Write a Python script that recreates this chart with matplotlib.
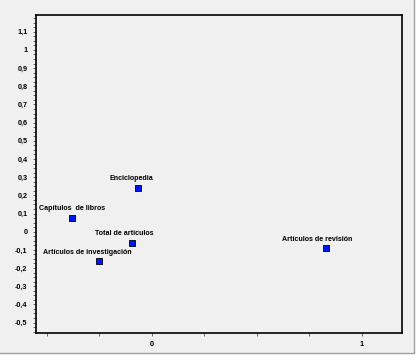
import matplotlib
matplotlib.use("Agg")
import matplotlib.pyplot as plt
from matplotlib.patches import Rectangle
from matplotlib.ticker import MultipleLocator, FuncFormatter

# data
names = ["Enciclopedia", "Capítulos  de libros", "Total de artículos",
         "Artículos de investigación", "Artículos de revisión"]
dim1 = [-0.067, -0.380, -0.094, -0.251, 0.830]
dim2 = [0.242, 0.077, -0.060, -0.160, -0.090]

# label offsets (points) relative to each marker
label_dx = [-4.3, 0.0, -5.8, -8.6, -6.5]
label_dy = 6.3

W, H = 416, 363
fig = plt.figure(figsize=(W / 100, H / 100), dpi=100, facecolor="white")

# grey panel with thin border at right/bottom only
panel = Rectangle((-5 / W, 10 / H), 419 / W, 1 - 10 / H + 5 / H,
                  transform=fig.transFigure, facecolor="#f0f0f0",
                  edgecolor="#a0a0a0", linewidth=1.0, zorder=-10)
fig.patches.append(panel)

ax = fig.add_axes([36 / W, (H - 333.3) / H, (402.3 - 36) / W, (333.3 - 15) / H])
ax.set_facecolor("#f0f0f0")
for s in ax.spines.values():
    s.set_linewidth(1.2)
    s.set_color("black")

ax.scatter(dim1, dim2, marker="s", s=14, c="#0018f0", edgecolors="#101030",
           linewidths=0.7, zorder=3)

for n, x, y, dx in zip(names, dim1, dim2, label_dx):
    ax.annotate(n, (x, y), xytext=(dx, label_dy), textcoords="offset points",
                ha="center", va="center", fontsize=5.1, fontweight="bold",
                family="Liberation Sans", color="black")

ax.set_xlim(-0.551, 1.192)
ax.set_ylim(-0.559, 1.192)

def fmt_y(v, pos):
    s = ("%.1f" % v).replace(".", ",")
    if s.endswith(",0"):
        s = s[:-2]
    if s == "-0":
        s = "0"
    return s

def fmt_x(v, pos):
    if abs(v) < 1e-9:
        return "0"
    if abs(v - 1) < 1e-9:
        return "1"
    return ""

ax.yaxis.set_major_locator(MultipleLocator(0.1))
ax.yaxis.set_minor_locator(MultipleLocator(0.025))
ax.yaxis.set_major_formatter(FuncFormatter(fmt_y))
ax.xaxis.set_major_locator(MultipleLocator(0.25))
ax.xaxis.set_major_formatter(FuncFormatter(fmt_x))

ax.tick_params(axis="both", which="both", direction="out", length=2.2,
               width=0.6, color="#505050")
ax.tick_params(axis="y", which="major", pad=4.0)
ax.tick_params(axis="x", which="major", pad=3.0)
for lab in ax.get_xticklabels() + ax.get_yticklabels():
    lab.set_fontsize(5.2)
    lab.set_fontweight("bold")
    lab.set_family("Liberation Sans")

fig.savefig("out.png", dpi=100, facecolor="white")
